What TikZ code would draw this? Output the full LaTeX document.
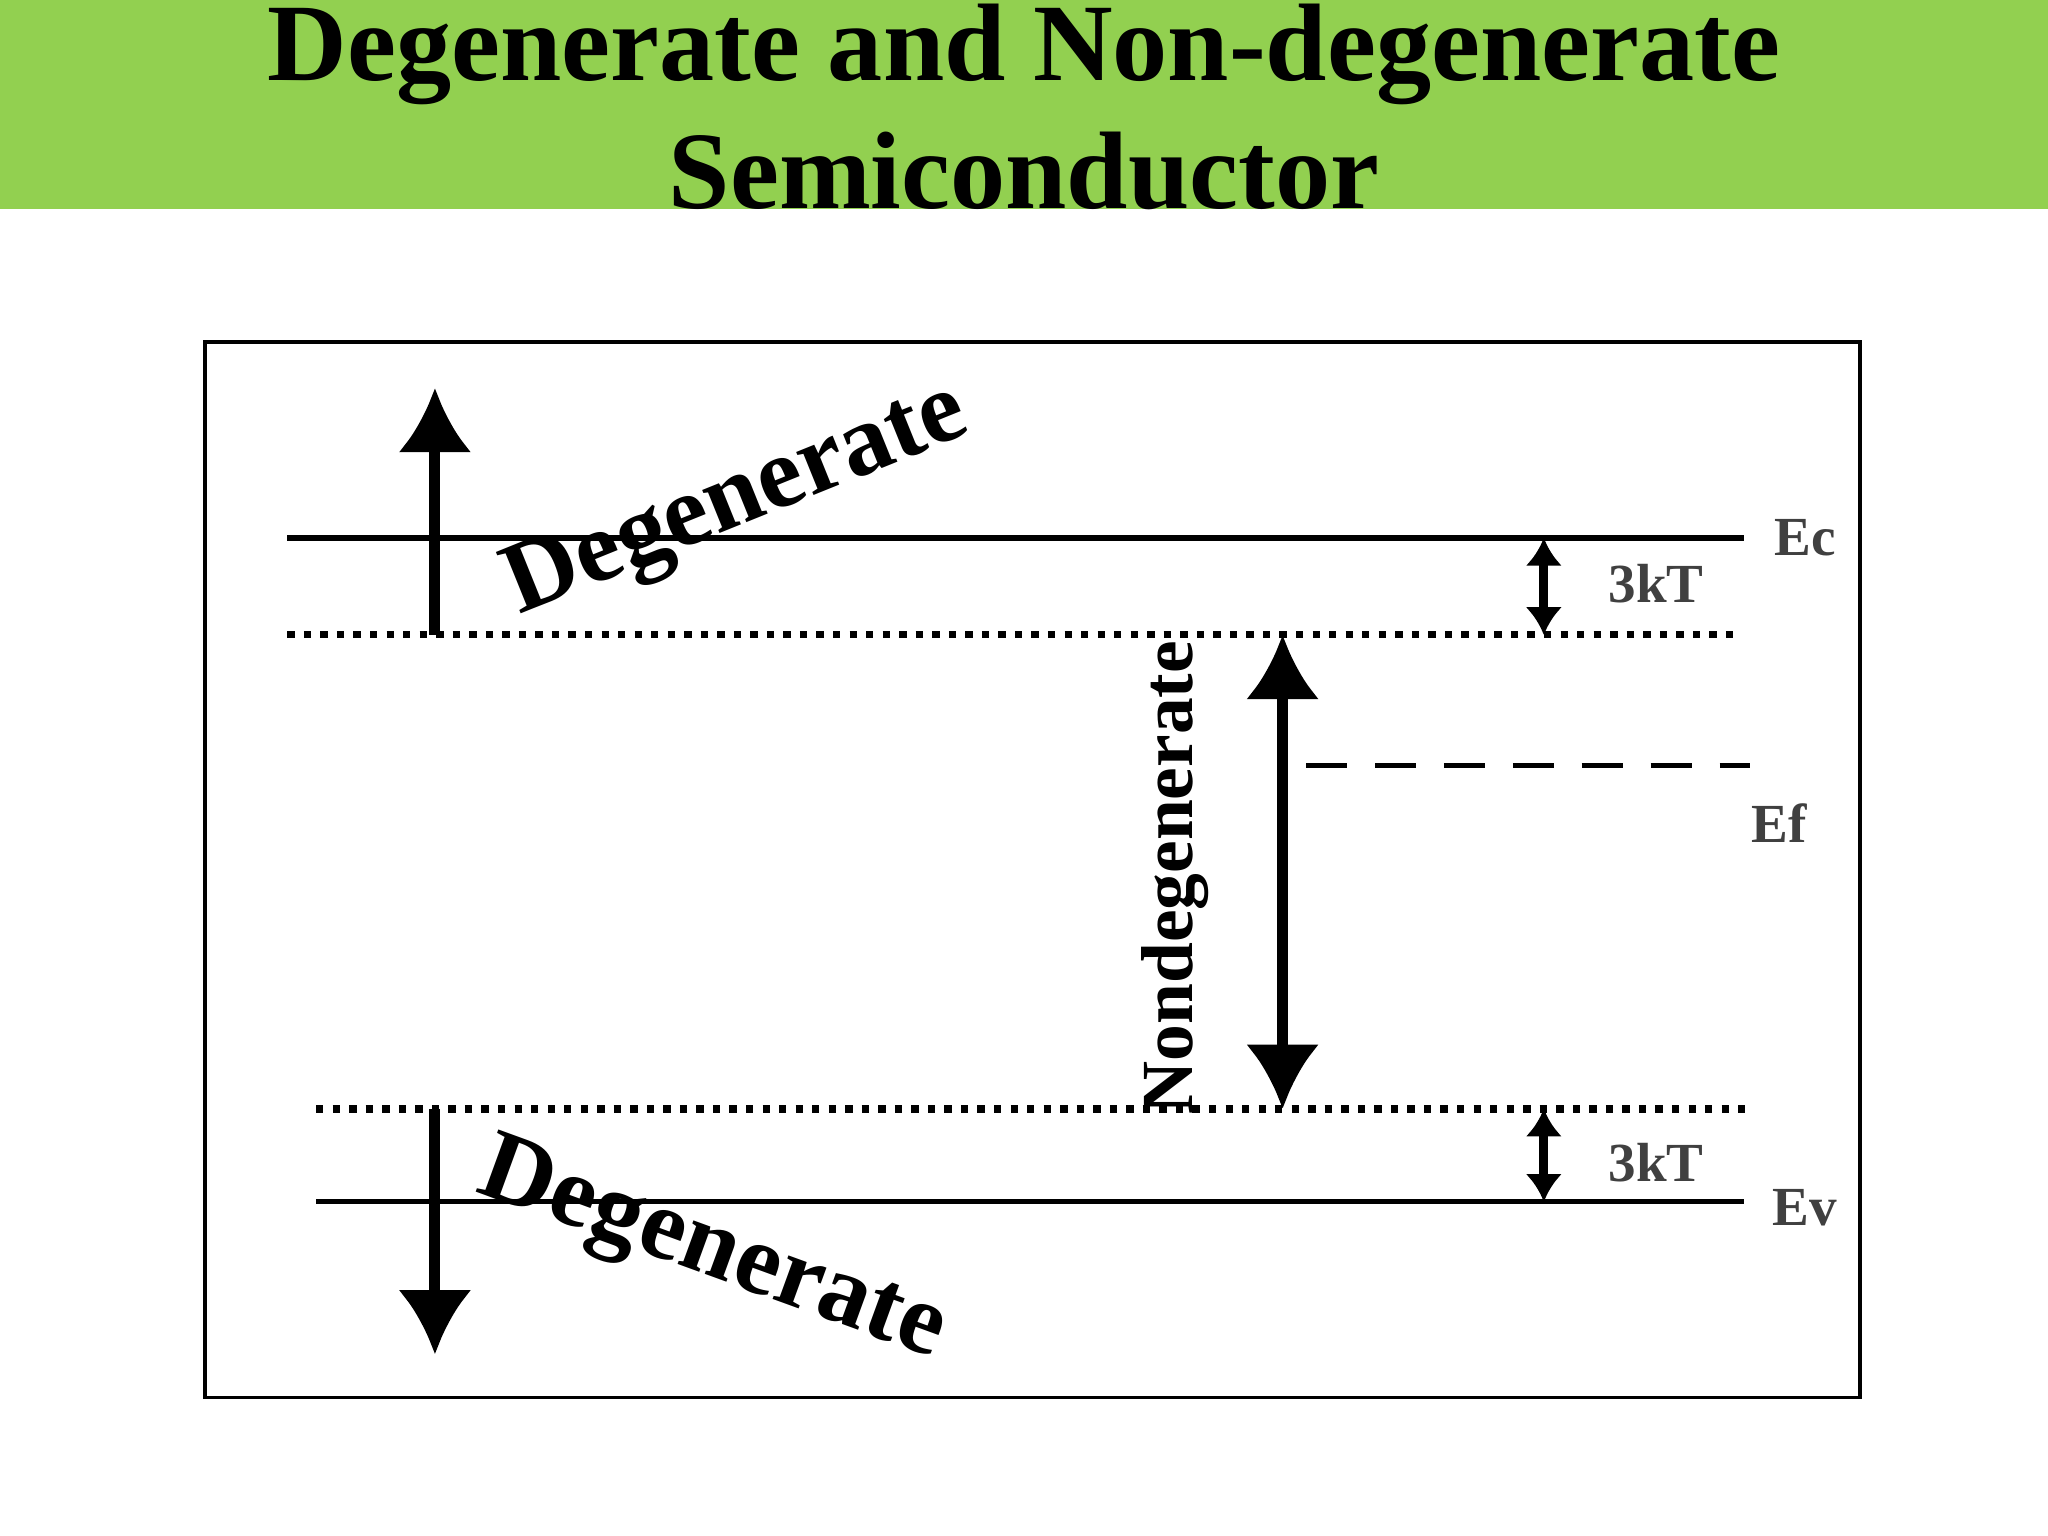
\documentclass[tikz,border=0pt]{standalone}
\usepackage{fontspec}
\setmainfont{Liberation Serif}
\usetikzlibrary{arrows.meta}
\definecolor{bargreen}{RGB}{146,208,80}
\tikzset{
  level/.style={line width=1.2pt},
  dotlevel/.style={line width=1.6pt,dotted},
  bigarrow/.style={line width=2.4pt,-{Latex[length=14pt,width=16pt]}},
  smallarrow/.style={line width=2pt,{Latex[length=6pt,width=8pt]}-{Latex[length=6pt,width=8pt]}},
  lbl/.style={font=\bfseries\fontsize{12}{14}\selectfont,text=black!75},
  bigtext/.style={font=\bfseries\fontsize{22}{26}\selectfont}
}
\begin{document}
\begin{tikzpicture}[x=0.01cm,y=-0.01cm]
\useasboundingbox (0,0) rectangle (1568,1176);
%title bar
\fill[bargreen] (0,0) rectangle (1568,160);
\node[font=\bfseries\fontsize{24}{28}\selectfont,align=center] (title) at (784,82) {Degenerate and Non-degenerate\\Semiconductor};
%frame
\draw[line width=0.8pt] (157,262) rectangle (1424,1070);
%levels
\draw[level] (220,412) -- (1335,412);
\draw[dotlevel] (220,486) -- (1330,486);
\draw[line width=1.2pt,dash pattern=on 9pt off 6pt] (1000,586) -- (1340,586);
\draw[dotlevel] (242,849) -- (1340,849);
\draw[level] (242,920) -- (1335,920);
\node[lbl] (ec) at (1382,412) {Ec};
\node[lbl] (ef) at (1362,630) {Ef};
\node[lbl] (ev) at (1382,925) {Ev};
%3kT gaps
\coordinate (g1t) at (1182,412);
\coordinate (g1b) at (1182,486);
\coordinate (g2t) at (1182,849);
\coordinate (g2b) at (1182,920);
\draw[smallarrow] (g1t) -- (g1b);
\draw[smallarrow] (g2t) -- (g2b);
\node[lbl] (k1) at (1268,447) {3kT};
\node[lbl] (k2) at (1268,890) {3kT};
%arrows
\coordinate (u0) at (333,486);
\coordinate (u1) at (333,297);
\coordinate (d0) at (333,849);
\coordinate (d1) at (333,1037);
\coordinate (n0) at (982,486);
\coordinate (n1) at (982,849);
\draw[bigarrow] (u0) -- (u1);
\draw[bigarrow] (d0) -- (d1);
\draw[bigarrow,{Latex[length=14pt,width=16pt]}-{Latex[length=14pt,width=16pt]}] (n0) -- (n1);
\node[bigtext,rotate=22] (deg1) at (565,385) {Degenerate};
\node[bigtext,rotate=-20] (deg2) at (545,960) {Degenerate};
\node[bigtext,font=\bfseries\fontsize{16}{20}\selectfont,rotate=90] (nondeg) at (900,672) {Nondegenerate};
\end{tikzpicture}
\end{document}
